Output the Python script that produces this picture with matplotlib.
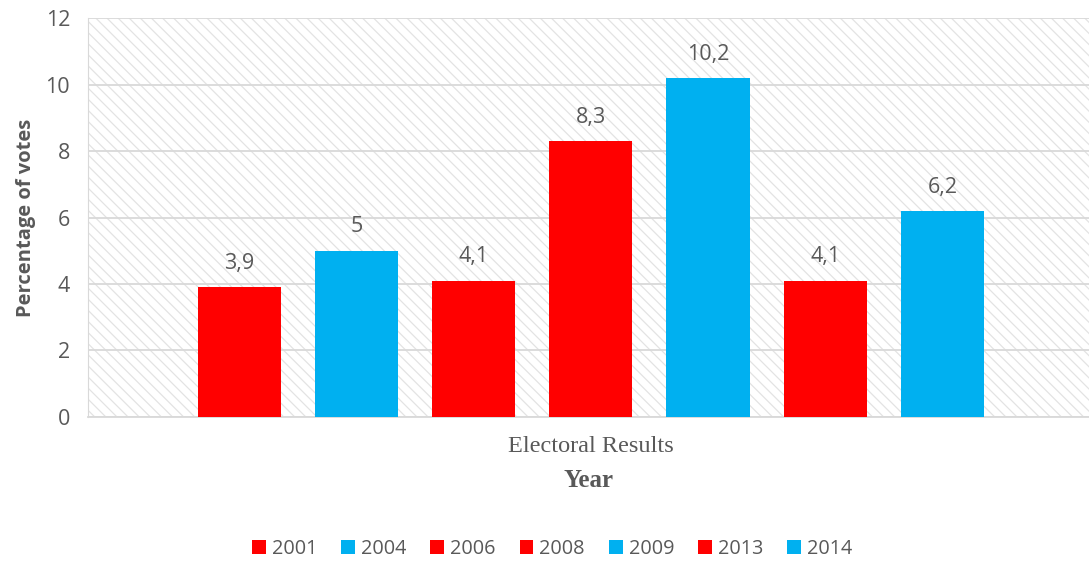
import matplotlib
matplotlib.use("Agg")
import matplotlib.pyplot as plt
import numpy as np

# data
years = ["2001", "2004", "2006", "2008", "2009", "2013", "2014"]
votes = [3.9, 5.0, 4.1, 8.3, 10.2, 4.1, 6.2]
labels = ["3,9", "5", "4,1", "8,3", "10,2", "4,1", "6,2"]
colors = ["#FF0000", "#00B0F0", "#FF0000", "#FF0000", "#00B0F0", "#FF0000", "#00B0F0"]
category = "Electoral Results"

TEXT = "#595959"
GRID = "#D9D9D9"

plt.rcParams["font.family"] = ["Open Sans", "DejaVu Sans"]
plt.rcParams["hatch.linewidth"] = 0.9
plt.rcParams["hatch.color"] = "#E3E3E3"

fig = plt.figure(figsize=(10.89, 5.67), dpi=100)
ax = fig.add_axes([0.0808, 0.2646, 0.9192, 0.7036])

ax.patch.set_facecolor("white")
ax.patch.set_hatch("\\\\\\")
ax.patch.set_edgecolor("#E3E3E3")

offsets = np.arange(len(years)) - (len(years) - 1) / 2
for off, v, lab, c, yr in zip(offsets, votes, labels, colors, years):
    ax.bar(off, v, width=0.71, color=c, label=yr, zorder=3)
    ax.text(off, v + 0.4, lab, ha="center", va="bottom", fontsize=15.5, color=TEXT)

ax.set_xlim(-4.29, 4.25)
ax.set_ylim(0, 12)
ax.set_yticks(range(0, 13, 2))
ax.yaxis.grid(True, color=GRID, linewidth=1.3, zorder=1)
ax.set_axisbelow(True)

ax.set_xticks([0])
ax.set_xticklabels([category], fontfamily="Liberation Serif", fontsize=17.5, color=TEXT)
ax.tick_params(axis="x", length=0, pad=14)
ax.tick_params(axis="y", length=0, labelsize=15.5, labelcolor=TEXT, pad=13)

for s in ["top", "right"]:
    ax.spines[s].set_visible(False)
ax.spines["left"].set_color(GRID)
ax.spines["bottom"].set_color(GRID)
ax.spines["bottom"].set_linewidth(1.3)

ax.set_xlabel("Year", fontfamily="Liberation Serif", fontsize=18, fontweight="bold",
              color=TEXT, labelpad=8)
ax.set_ylabel("Percentage of votes", fontsize=14.5, fontweight="bold", color=TEXT, labelpad=7)

leg = fig.legend(loc="center", bbox_to_anchor=(0.507, 0.032), ncol=7, frameon=False,
                 fontsize=14.3, handlelength=0.7, handleheight=0.7, handletextpad=0.3,
                 columnspacing=1.2)
for t in leg.get_texts():
    t.set_color(TEXT)

fig.savefig("out.png", dpi=100)
